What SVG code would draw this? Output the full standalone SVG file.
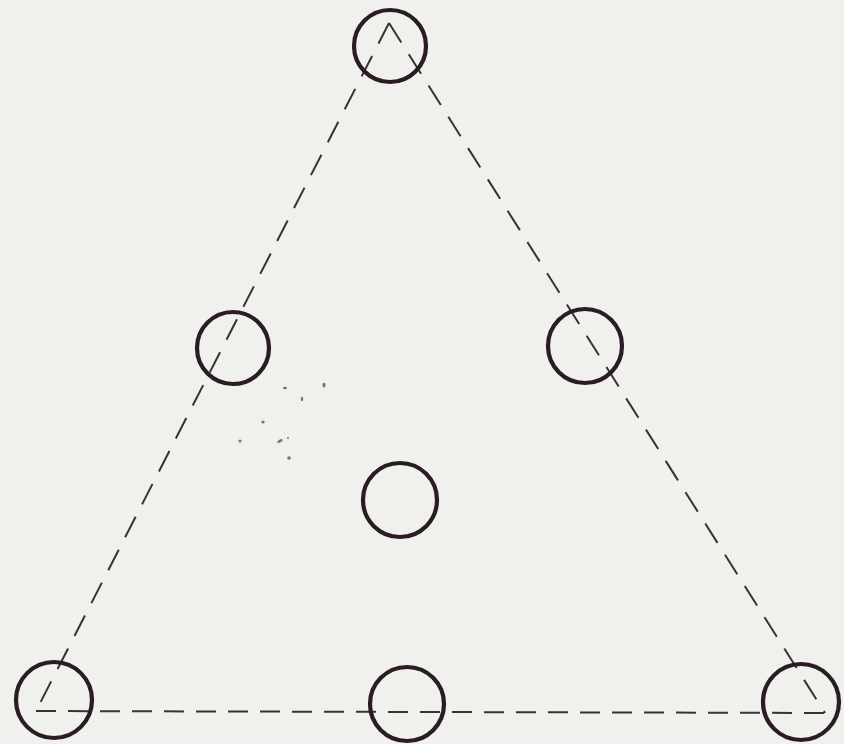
<svg xmlns="http://www.w3.org/2000/svg" width="844" height="744" viewBox="0 0 844 744">
<style>
.bg{fill:#f0f0ec}
.node{fill:none;stroke:#2a1c24;stroke-width:4.2}
.edge{fill:none;stroke:#3a3036;stroke-width:2;stroke-dasharray:23 14}
.speck{fill:#7a7078}
</style>
<rect class="bg" x="0" y="0" width="844" height="744"/>
<g id="connectors">
<line class="edge" x1="389" y1="23" x2="36" y2="711"/>
<line class="edge" x1="389" y1="23" x2="825" y2="713"/>
<line class="edge" x1="36" y1="711" x2="825" y2="713" style="stroke-dasharray:20 12"/>
</g>
<g id="n-top"><circle class="node" cx="390" cy="46" r="36"/></g>
<g id="n-left"><circle class="node" cx="233" cy="348" r="36"/></g>
<g id="n-right"><circle class="node" cx="585" cy="346" r="37"/></g>
<g id="n-center"><circle class="node" cx="400" cy="500" r="37"/></g>
<g id="n-bottom-left"><circle class="node" cx="54" cy="700" r="38"/></g>
<g id="n-bottom-mid"><circle class="node" cx="407" cy="704" r="37"/></g>
<g id="n-bottom-right"><circle class="node" cx="801" cy="702" r="38"/></g>
<g id="specks">
<ellipse class="speck" cx="285" cy="388" rx="2" ry="1.3"/>
<ellipse class="speck" cx="324" cy="385" rx="1.5" ry="2.6"/>
<ellipse class="speck" cx="302" cy="399" rx="1.2" ry="2.3"/>
<circle class="speck" cx="263" cy="422" r="1.6"/>
<circle class="speck" cx="240" cy="441" r="1.6"/>
<ellipse class="speck" cx="280" cy="441" rx="3" ry="1.4" transform="rotate(-30 280 441)"/>
<circle class="speck" cx="288" cy="438" r="1"/>
<circle class="speck" cx="289" cy="458" r="1.8"/>
</g>
</svg>
